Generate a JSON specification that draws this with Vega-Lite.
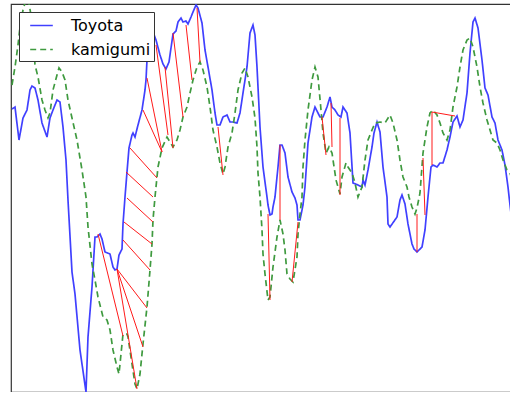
{
"$schema": "https://vega.github.io/schema/vega-lite/v6.json",
"width": 505, "height": 388,
"autosize": "none",
"padding": {"left": 11, "top": 4, "right": 0, "bottom": 0},
"background": "white",
"datasets": {
"lines": [
{"s":"Toyota","x":12,"v":291},{"s":"Toyota","x":15,"v":293},{"s":"Toyota","x":19,"v":260},{"s":"Toyota","x":23,"v":282},{"s":"Toyota","x":27,"v":290},{"s":"Toyota","x":30,"v":310},{"s":"Toyota","x":32,"v":314},{"s":"Toyota","x":35,"v":312},{"s":"Toyota","x":38,"v":300},{"s":"Toyota","x":42,"v":277},{"s":"Toyota","x":47,"v":263},{"s":"Toyota","x":50,"v":282},{"s":"Toyota","x":53,"v":290},{"s":"Toyota","x":57,"v":300},{"s":"Toyota","x":60,"v":298},{"s":"Toyota","x":63,"v":273},{"s":"Toyota","x":66,"v":240},{"s":"Toyota","x":68,"v":200},{"s":"Toyota","x":72,"v":128},{"s":"Toyota","x":75,"v":106},{"s":"Toyota","x":80,"v":50},{"s":"Toyota","x":86,"v":8},{"s":"Toyota","x":88,"v":63},{"s":"Toyota","x":92,"v":113},{"s":"Toyota","x":95,"v":163},{"s":"Toyota","x":97,"v":163},{"s":"Toyota","x":100,"v":166},{"s":"Toyota","x":102,"v":161},{"s":"Toyota","x":105,"v":148},{"s":"Toyota","x":110,"v":146},{"s":"Toyota","x":113,"v":133},{"s":"Toyota","x":115,"v":130},{"s":"Toyota","x":117,"v":131},{"s":"Toyota","x":119,"v":145},{"s":"Toyota","x":122,"v":151},{"s":"Toyota","x":123,"v":176},{"s":"Toyota","x":125,"v":203},{"s":"Toyota","x":127,"v":228},{"s":"Toyota","x":129,"v":252},{"s":"Toyota","x":132,"v":265},{"s":"Toyota","x":133,"v":267},{"s":"Toyota","x":135,"v":263},{"s":"Toyota","x":138,"v":275},{"s":"Toyota","x":142,"v":290},{"s":"Toyota","x":145,"v":310},{"s":"Toyota","x":146,"v":320},{"s":"Toyota","x":148,"v":360},{"s":"Toyota","x":150,"v":369},{"s":"Toyota","x":153,"v":368},{"s":"Toyota","x":156,"v":360},{"s":"Toyota","x":160,"v":345},{"s":"Toyota","x":163,"v":336},{"s":"Toyota","x":166,"v":331},{"s":"Toyota","x":169,"v":338},{"s":"Toyota","x":171,"v":352},{"s":"Toyota","x":173,"v":366},{"s":"Toyota","x":176,"v":369},{"s":"Toyota","x":178,"v":378},{"s":"Toyota","x":181,"v":382},{"s":"Toyota","x":183,"v":378},{"s":"Toyota","x":186,"v":379},{"s":"Toyota","x":188,"v":376},{"s":"Toyota","x":191,"v":383},{"s":"Toyota","x":193,"v":388},{"s":"Toyota","x":196,"v":395},{"s":"Toyota","x":198,"v":392},{"s":"Toyota","x":202,"v":377},{"s":"Toyota","x":205,"v":350},{"s":"Toyota","x":208,"v":333},{"s":"Toyota","x":212,"v":310},{"s":"Toyota","x":215,"v":287},{"s":"Toyota","x":217,"v":275},{"s":"Toyota","x":220,"v":275},{"s":"Toyota","x":223,"v":283},{"s":"Toyota","x":227,"v":285},{"s":"Toyota","x":230,"v":278},{"s":"Toyota","x":233,"v":278},{"s":"Toyota","x":237,"v":277},{"s":"Toyota","x":240,"v":287},{"s":"Toyota","x":243,"v":307},{"s":"Toyota","x":247,"v":333},{"s":"Toyota","x":250,"v":367},{"s":"Toyota","x":253,"v":375},{"s":"Toyota","x":255,"v":365},{"s":"Toyota","x":257,"v":333},{"s":"Toyota","x":260,"v":273},{"s":"Toyota","x":263,"v":233},{"s":"Toyota","x":267,"v":203},{"s":"Toyota","x":268,"v":195},{"s":"Toyota","x":270,"v":185},{"s":"Toyota","x":272,"v":186},{"s":"Toyota","x":273,"v":193},{"s":"Toyota","x":275,"v":203},{"s":"Toyota","x":278,"v":233},{"s":"Toyota","x":280,"v":255},{"s":"Toyota","x":282,"v":255},{"s":"Toyota","x":285,"v":247},{"s":"Toyota","x":288,"v":223},{"s":"Toyota","x":292,"v":208},{"s":"Toyota","x":295,"v":202},{"s":"Toyota","x":297,"v":195},{"s":"Toyota","x":298,"v":180},{"s":"Toyota","x":300,"v":180},{"s":"Toyota","x":303,"v":195},{"s":"Toyota","x":305,"v":213},{"s":"Toyota","x":308,"v":257},{"s":"Toyota","x":312,"v":283},{"s":"Toyota","x":315,"v":293},{"s":"Toyota","x":318,"v":287},{"s":"Toyota","x":320,"v":283},{"s":"Toyota","x":323,"v":283},{"s":"Toyota","x":327,"v":293},{"s":"Toyota","x":330,"v":303},{"s":"Toyota","x":332,"v":293},{"s":"Toyota","x":335,"v":290},{"s":"Toyota","x":338,"v":285},{"s":"Toyota","x":341,"v":283},{"s":"Toyota","x":343,"v":293},{"s":"Toyota","x":347,"v":287},{"s":"Toyota","x":350,"v":267},{"s":"Toyota","x":353,"v":217},{"s":"Toyota","x":358,"v":215},{"s":"Toyota","x":362,"v":213},{"s":"Toyota","x":363,"v":220},{"s":"Toyota","x":365,"v":215},{"s":"Toyota","x":368,"v":230},{"s":"Toyota","x":372,"v":253},{"s":"Toyota","x":374,"v":267},{"s":"Toyota","x":377,"v":278},{"s":"Toyota","x":380,"v":268},{"s":"Toyota","x":383,"v":233},{"s":"Toyota","x":387,"v":203},{"s":"Toyota","x":388,"v":176},{"s":"Toyota","x":390,"v":173},{"s":"Toyota","x":397,"v":183},{"s":"Toyota","x":400,"v":200},{"s":"Toyota","x":402,"v":205},{"s":"Toyota","x":405,"v":196},{"s":"Toyota","x":408,"v":176},{"s":"Toyota","x":412,"v":156},{"s":"Toyota","x":414,"v":151},{"s":"Toyota","x":417,"v":148},{"s":"Toyota","x":422,"v":153},{"s":"Toyota","x":425,"v":170},{"s":"Toyota","x":428,"v":203},{"s":"Toyota","x":431,"v":233},{"s":"Toyota","x":433,"v":235},{"s":"Toyota","x":437,"v":233},{"s":"Toyota","x":440,"v":237},{"s":"Toyota","x":443,"v":237},{"s":"Toyota","x":447,"v":250},{"s":"Toyota","x":450,"v":263},{"s":"Toyota","x":453,"v":278},{"s":"Toyota","x":457,"v":284},{"s":"Toyota","x":460,"v":273},{"s":"Toyota","x":463,"v":280},{"s":"Toyota","x":467,"v":307},{"s":"Toyota","x":470,"v":347},{"s":"Toyota","x":473,"v":378},{"s":"Toyota","x":475,"v":382},{"s":"Toyota","x":478,"v":372},{"s":"Toyota","x":482,"v":340},{"s":"Toyota","x":485,"v":312},{"s":"Toyota","x":488,"v":305},{"s":"Toyota","x":492,"v":283},{"s":"Toyota","x":495,"v":277},{"s":"Toyota","x":498,"v":260},{"s":"Toyota","x":502,"v":250},{"s":"Toyota","x":505,"v":235},{"s":"Toyota","x":508,"v":213},{"s":"Toyota","x":510,"v":195},{"s":"Toyota","x":513,"v":170},
{"s":"kamigumi","x":12,"v":315},{"s":"kamigumi","x":15,"v":333},{"s":"kamigumi","x":18,"v":355},{"s":"kamigumi","x":20,"v":373},{"s":"kamigumi","x":23,"v":390},{"s":"kamigumi","x":25,"v":397},{"s":"kamigumi","x":28,"v":402},{"s":"kamigumi","x":31,"v":385},{"s":"kamigumi","x":34,"v":350},{"s":"kamigumi","x":35,"v":335},{"s":"kamigumi","x":38,"v":323},{"s":"kamigumi","x":42,"v":300},{"s":"kamigumi","x":45,"v":290},{"s":"kamigumi","x":48,"v":282},{"s":"kamigumi","x":50,"v":287},{"s":"kamigumi","x":53,"v":310},{"s":"kamigumi","x":57,"v":325},{"s":"kamigumi","x":59,"v":332},{"s":"kamigumi","x":62,"v":328},{"s":"kamigumi","x":65,"v":320},{"s":"kamigumi","x":68,"v":300},{"s":"kamigumi","x":72,"v":282},{"s":"kamigumi","x":77,"v":260},{"s":"kamigumi","x":82,"v":230},{"s":"kamigumi","x":86,"v":203},{"s":"kamigumi","x":88,"v":173},{"s":"kamigumi","x":92,"v":136},{"s":"kamigumi","x":95,"v":120},{"s":"kamigumi","x":98,"v":103},{"s":"kamigumi","x":103,"v":83},{"s":"kamigumi","x":107,"v":80},{"s":"kamigumi","x":110,"v":70},{"s":"kamigumi","x":113,"v":50},{"s":"kamigumi","x":117,"v":33},{"s":"kamigumi","x":119,"v":26},{"s":"kamigumi","x":121,"v":46},{"s":"kamigumi","x":123,"v":66},{"s":"kamigumi","x":127,"v":66},{"s":"kamigumi","x":128,"v":63},{"s":"kamigumi","x":132,"v":36},{"s":"kamigumi","x":135,"v":16},{"s":"kamigumi","x":137,"v":11},{"s":"kamigumi","x":140,"v":26},{"s":"kamigumi","x":143,"v":56},{"s":"kamigumi","x":147,"v":93},{"s":"kamigumi","x":150,"v":130},{"s":"kamigumi","x":152,"v":156},{"s":"kamigumi","x":153,"v":180},{"s":"kamigumi","x":155,"v":203},{"s":"kamigumi","x":158,"v":233},{"s":"kamigumi","x":162,"v":252},{"s":"kamigumi","x":167,"v":263},{"s":"kamigumi","x":170,"v":258},{"s":"kamigumi","x":173,"v":253},{"s":"kamigumi","x":177,"v":260},{"s":"kamigumi","x":180,"v":270},{"s":"kamigumi","x":183,"v":283},{"s":"kamigumi","x":187,"v":293},{"s":"kamigumi","x":190,"v":307},{"s":"kamigumi","x":193,"v":320},{"s":"kamigumi","x":197,"v":333},{"s":"kamigumi","x":200,"v":338},{"s":"kamigumi","x":203,"v":330},{"s":"kamigumi","x":207,"v":313},{"s":"kamigumi","x":210,"v":293},{"s":"kamigumi","x":213,"v":270},{"s":"kamigumi","x":217,"v":253},{"s":"kamigumi","x":220,"v":237},{"s":"kamigumi","x":223,"v":226},{"s":"kamigumi","x":225,"v":233},{"s":"kamigumi","x":228,"v":253},{"s":"kamigumi","x":232,"v":267},{"s":"kamigumi","x":235,"v":287},{"s":"kamigumi","x":238,"v":310},{"s":"kamigumi","x":242,"v":327},{"s":"kamigumi","x":245,"v":332},{"s":"kamigumi","x":248,"v":323},{"s":"kamigumi","x":252,"v":303},{"s":"kamigumi","x":255,"v":282},{"s":"kamigumi","x":257,"v":253},{"s":"kamigumi","x":258,"v":227},{"s":"kamigumi","x":260,"v":203},{"s":"kamigumi","x":262,"v":170},{"s":"kamigumi","x":263,"v":146},{"s":"kamigumi","x":265,"v":126},{"s":"kamigumi","x":268,"v":100},{"s":"kamigumi","x":270,"v":103},{"s":"kamigumi","x":273,"v":133},{"s":"kamigumi","x":277,"v":163},{"s":"kamigumi","x":280,"v":180},{"s":"kamigumi","x":283,"v":166},{"s":"kamigumi","x":285,"v":150},{"s":"kamigumi","x":287,"v":126},{"s":"kamigumi","x":290,"v":121},{"s":"kamigumi","x":293,"v":118},{"s":"kamigumi","x":297,"v":143},{"s":"kamigumi","x":298,"v":166},{"s":"kamigumi","x":300,"v":186},{"s":"kamigumi","x":302,"v":203},{"s":"kamigumi","x":303,"v":233},{"s":"kamigumi","x":305,"v":260},{"s":"kamigumi","x":308,"v":290},{"s":"kamigumi","x":312,"v":320},{"s":"kamigumi","x":315,"v":333},{"s":"kamigumi","x":318,"v":323},{"s":"kamigumi","x":321,"v":290},{"s":"kamigumi","x":323,"v":267},{"s":"kamigumi","x":326,"v":247},{"s":"kamigumi","x":329,"v":253},{"s":"kamigumi","x":332,"v":247},{"s":"kamigumi","x":336,"v":220},{"s":"kamigumi","x":340,"v":206},{"s":"kamigumi","x":342,"v":223},{"s":"kamigumi","x":346,"v":237},{"s":"kamigumi","x":348,"v":233},{"s":"kamigumi","x":352,"v":227},{"s":"kamigumi","x":355,"v":217},{"s":"kamigumi","x":358,"v":203},{"s":"kamigumi","x":362,"v":213},{"s":"kamigumi","x":365,"v":240},{"s":"kamigumi","x":368,"v":260},{"s":"kamigumi","x":372,"v":270},{"s":"kamigumi","x":375,"v":277},{"s":"kamigumi","x":380,"v":278},{"s":"kamigumi","x":385,"v":277},{"s":"kamigumi","x":390,"v":285},{"s":"kamigumi","x":393,"v":277},{"s":"kamigumi","x":397,"v":260},{"s":"kamigumi","x":400,"v":240},{"s":"kamigumi","x":403,"v":223},{"s":"kamigumi","x":407,"v":213},{"s":"kamigumi","x":409,"v":203},{"s":"kamigumi","x":412,"v":193},{"s":"kamigumi","x":415,"v":186},{"s":"kamigumi","x":417,"v":192},{"s":"kamigumi","x":420,"v":207},{"s":"kamigumi","x":423,"v":247},{"s":"kamigumi","x":427,"v":273},{"s":"kamigumi","x":430,"v":287},{"s":"kamigumi","x":433,"v":290},{"s":"kamigumi","x":437,"v":285},{"s":"kamigumi","x":440,"v":277},{"s":"kamigumi","x":443,"v":267},{"s":"kamigumi","x":447,"v":260},{"s":"kamigumi","x":450,"v":270},{"s":"kamigumi","x":453,"v":293},{"s":"kamigumi","x":457,"v":313},{"s":"kamigumi","x":460,"v":333},{"s":"kamigumi","x":463,"v":350},{"s":"kamigumi","x":467,"v":360},{"s":"kamigumi","x":470,"v":362},{"s":"kamigumi","x":473,"v":353},{"s":"kamigumi","x":477,"v":333},{"s":"kamigumi","x":480,"v":313},{"s":"kamigumi","x":483,"v":297},{"s":"kamigumi","x":487,"v":280},{"s":"kamigumi","x":490,"v":270},{"s":"kamigumi","x":493,"v":260},{"s":"kamigumi","x":497,"v":257},{"s":"kamigumi","x":500,"v":250},{"s":"kamigumi","x":503,"v":240},{"s":"kamigumi","x":507,"v":230},{"s":"kamigumi","x":510,"v":227},{"s":"kamigumi","x":514,"v":215}
],
"links": [
{"x1":98,"v1":166,"x2":123,"v2":64},{"x1":117,"v1":131,"x2":137,"v2":11},{"x1":117,"v1":131,"x2":143,"v2":53},{"x1":117,"v1":131,"x2":147,"v2":92},{"x1":123,"v1":160,"x2":150,"v2":130},{"x1":124,"v1":178,"x2":152,"v2":156},{"x1":127,"v1":202,"x2":153,"v2":178},{"x1":126,"v1":228,"x2":153,"v2":203},{"x1":130,"v1":252,"x2":157,"v2":222},{"x1":143,"v1":290,"x2":162,"v2":248},{"x1":147,"v1":322,"x2":162,"v2":248},{"x1":156,"v1":355,"x2":168,"v2":265},{"x1":165,"v1":333,"x2":173,"v2":252},{"x1":173,"v1":367,"x2":183,"v2":283},{"x1":186,"v1":375,"x2":192,"v2":320},{"x1":197,"v1":392,"x2":200,"v2":338},{"x1":218,"v1":273,"x2":223,"v2":225},{"x1":268,"v1":186,"x2":270,"v2":100},{"x1":280,"v1":255,"x2":280,"v2":180},{"x1":298,"v1":178,"x2":292,"v2":118},{"x1":322,"v1":283,"x2":326,"v2":245},{"x1":331,"v1":297,"x2":332,"v2":253},{"x1":340,"v1":282,"x2":340,"v2":205},{"x1":423,"v1":242,"x2":425,"v2":185},{"x1":417,"v1":186,"x2":417,"v2":148},{"x1":432,"v1":288,"x2":432,"v2":235},{"x1":432,"v1":288,"x2":455,"v2":284}
]
},
"layer": [
{"data": {"name": "lines"},
 "mark": {"type": "line", "strokeWidth": 1.7, "clip": true},
 "encoding": {
  "x": {"field": "x", "type": "quantitative", "scale": {"domain": [11, 516], "nice": false, "zero": false}, "axis": null},
  "y": {"field": "v", "type": "quantitative", "scale": {"domain": [8, 396], "nice": false, "zero": false}, "axis": null},
  "color": {"field": "s", "type": "nominal", "scale": {"domain": ["Toyota", "kamigumi"], "range": ["#4040ff", "#3f9a3f"]}, "legend": {"title": null}},
  "strokeDash": {"field": "s", "type": "nominal", "scale": {"domain": ["Toyota", "kamigumi"], "range": [[1, 0], [6, 4]]}, "legend": {"title": null}},
  "order": {"field": "x", "type": "quantitative"}
 }},
{"data": {"name": "links"},
 "mark": {"type": "rule", "color": "#ff1a1a", "strokeWidth": 1, "clip": true},
 "encoding": {
  "x": {"field": "x1", "type": "quantitative"},
  "y": {"field": "v1", "type": "quantitative"},
  "x2": {"field": "x2"},
  "y2": {"field": "v2"}
 }}
],
"config": {
 "view": {"stroke": "#333", "strokeWidth": 1.2},
 "legend": {"orient": "none", "legendX": 8, "legendY": 8, "labelFontSize": 16, "labelFont": "DejaVu Sans", "labelColor": "black", "symbolType": "M-1.19,0H1.19", "symbolSize": 361, "symbolStrokeWidth": 1.7, "symbolFillColor": "transparent", "strokeColor": "#333", "fillColor": "white", "padding": 3, "rowPadding": 5, "labelOffset": 19, "symbolOffset": 9, "labelLimit": 300}
}
}
